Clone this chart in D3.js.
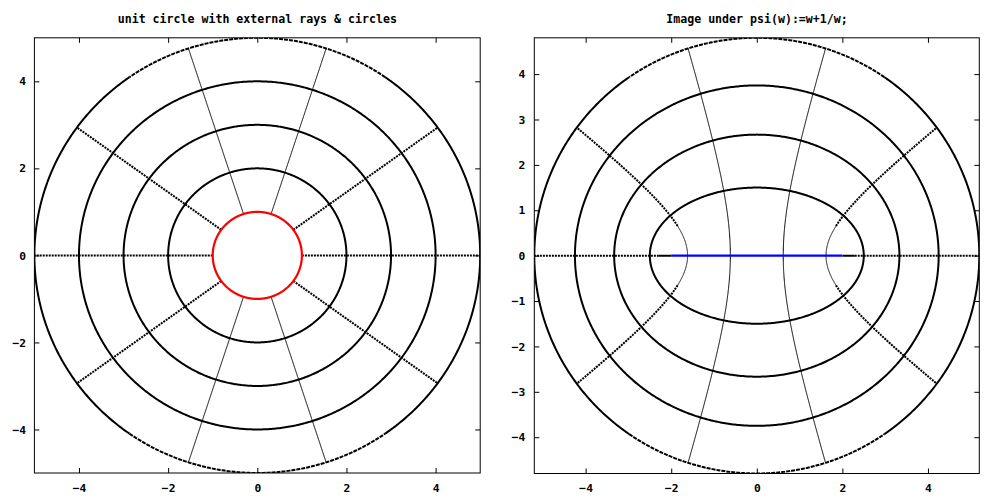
<!DOCTYPE html>
<html>
<head>
<meta charset="utf-8">
<script src="https://cdn.jsdelivr.net/npm/d3@7"></script>
<style>
  html, body { margin: 0; padding: 0; background: #fff; }
  svg { display: block; }
  text { font-family: "DejaVu Sans Mono", "Liberation Mono", monospace; font-weight: bold; font-size: 11.3px; fill: #000; }
  .title { font-size: 11.6px; }
</style>
</head>
<body>
<svg id="chart" width="1000" height="500"></svg>
<script>
// ---- data ----
const titles = ["unit circle with external rays & circles", "Image under psi(w):=w+1/w;"];
const circleRadii = [2, 3, 4, 5];          // external circles (black)
const unitRadius = 1;                        // unit circle (red) / its image (blue)
const rayAnglesDeg = [0, 36, 72, 108, 144, 180, 216, 252, 288, 324]; // external rays
const rayRange = [1, 5];                     // rays run from r=1 to r=5
const leftXDomain = [-5, 5];
const leftYDomain = [-5, 5];
const rightXDomain = [-5.2, 5.2];
const rightYDomain = [-4.8, 4.8];
const leftXTicks = [-4, -2, 0, 2, 4];
const leftYTicks = [-4, -2, 0, 2, 4];
const rightXTicks = [-4, -2, 0, 2, 4];
const rightYTicks = [-4, -3, -2, -1, 0, 1, 2, 3, 4];

// ---- layout ----
const svg = d3.select("#chart");
const panels = [
  { left: 34.4, right: 480.2, top: 37.8, bottom: 473, xd: leftXDomain, yd: leftYDomain, xt: leftXTicks, yt: leftYTicks, title: titles[0], tx: 257.3, ypad: 8.4 },
  { left: 534.3, right: 979.3, top: 37.8, bottom: 473.5, xd: rightXDomain, yd: rightYDomain, xt: rightXTicks, yt: rightYTicks, title: titles[1], tx: 757, ypad: 9 }
];

// maps
const identity = (x, y) => [x, y];
const psi = (x, y) => { // w + 1/w
  const d = x * x + y * y;
  return [x + x / d, y - y / d];
};

function arcPts(r, f, a0, a1) {
  const pts = [];
  const n = Math.max(2, Math.round(Math.abs(a1 - a0) * 2));
  for (let i = 0; i <= n; i++) {
    const t = (a0 + (a1 - a0) * i / n) * Math.PI / 180;
    pts.push(f(r * Math.cos(t), r * Math.sin(t)));
  }
  return pts;
}
function rayPts(deg, f, r0, r1) {
  const th = deg * Math.PI / 180;
  const pts = [];
  const n = 300;
  for (let i = 0; i <= n; i++) {
    const r = r0 + (r1 - r0) * i / n;
    pts.push(f(r * Math.cos(th), r * Math.sin(th)));
  }
  return pts;
}

panels.forEach((p, idx) => {
  const x = d3.scaleLinear().domain(p.xd).range([p.left, p.right]);
  const y = d3.scaleLinear().domain(p.yd).range([p.bottom, p.top]);
  const f = idx === 0 ? identity : psi;
  const line = d3.line().x(d => x(d[0])).y(d => y(d[1]));
  const g = svg.append("g");

  const clipId = "clip" + idx;
  svg.append("clipPath").attr("id", clipId).append("rect")
    .attr("x", p.left).attr("y", p.top).attr("width", p.right - p.left).attr("height", p.bottom - p.top);
  const plot = g.append("g").attr("clip-path", `url(#${clipId})`);

  const stroke = (pts, w, dash, color) => plot.append("path").attr("d", line(pts))
    .attr("fill", "none").attr("stroke", color || "#000").attr("stroke-width", w)
    .attr("stroke-dasharray", dash || null);

  // rays
  rayAnglesDeg.forEach(deg => {
    const a = deg % 180;
    if (a === 72 || a === 108) {
      stroke(rayPts(deg, f, rayRange[0], rayRange[1]), 1);
    } else if (idx === 0) {
      stroke(rayPts(deg, f, rayRange[0], rayRange[1]), 2, "2,1");
    } else {
      // near the slit the image points are dense: continuous stroke, then dotted
      const split = 1.7;
      stroke(rayPts(deg, f, rayRange[0], split), a === 0 ? 2 : 1);
      stroke(rayPts(deg, f, split, rayRange[1]), 2, "2,1");
    }
  });
  // circles
  circleRadii.forEach(r => {
    if (r === 5) {
      stroke(arcPts(r, f, -55, 55), 2);
      stroke(arcPts(r, f, 125, 235), 2);
      stroke(arcPts(r, f, 55, 125), 2, "4,1");
      stroke(arcPts(r, f, 235, 305), 2, "4,1");
    } else {
      stroke(arcPts(r, f, 0, 360), 2);
    }
  });
  // unit circle / its image
  stroke(arcPts(unitRadius, f, 0, 360), 2.2, null, idx === 0 ? "#ff0000" : "#0000ff");

  // axes (ticks inward, mirrored)
  const tl = 5;
  const axB = d3.axisBottom(x).tickValues(p.xt).tickFormat(d3.format("d")).tickSizeInner(-tl).tickSizeOuter(0).tickPadding(10.5);
  const axT = d3.axisTop(x).tickValues(p.xt).tickFormat("").tickSizeInner(-tl).tickSizeOuter(0);
  const axL = d3.axisLeft(y).tickValues(p.yt).tickFormat(d3.format("d")).tickSizeInner(-tl).tickSizeOuter(0).tickPadding(p.ypad);
  const axR = d3.axisRight(y).tickValues(p.yt).tickFormat("").tickSizeInner(-tl).tickSizeOuter(0);
  const fmt = sel => {
    sel.select(".domain").remove();
    sel.selectAll("line").attr("stroke", "#000").attr("stroke-width", 1);
    sel.selectAll("text").attr("font-family", null).attr("font-size", null);
  };
  g.append("g").attr("transform", `translate(0,${p.bottom})`).call(axB).call(fmt);
  g.append("g").attr("transform", `translate(0,${p.top})`).call(axT).call(fmt);
  g.append("g").attr("transform", `translate(${p.left},0)`).call(axL).call(fmt);
  g.append("g").attr("transform", `translate(${p.right},0)`).call(axR).call(fmt);
  g.selectAll("text").attr("fill", "#000");

  // frame
  g.append("rect").attr("x", p.left).attr("y", p.top)
    .attr("width", p.right - p.left).attr("height", p.bottom - p.top)
    .attr("fill", "none").attr("stroke", "#000").attr("stroke-width", 1);

  // title
  g.append("text").attr("class", "title").attr("x", p.tx).attr("y", 23)
    .attr("text-anchor", "middle").text(p.title);
});
</script>
</body>
</html>
